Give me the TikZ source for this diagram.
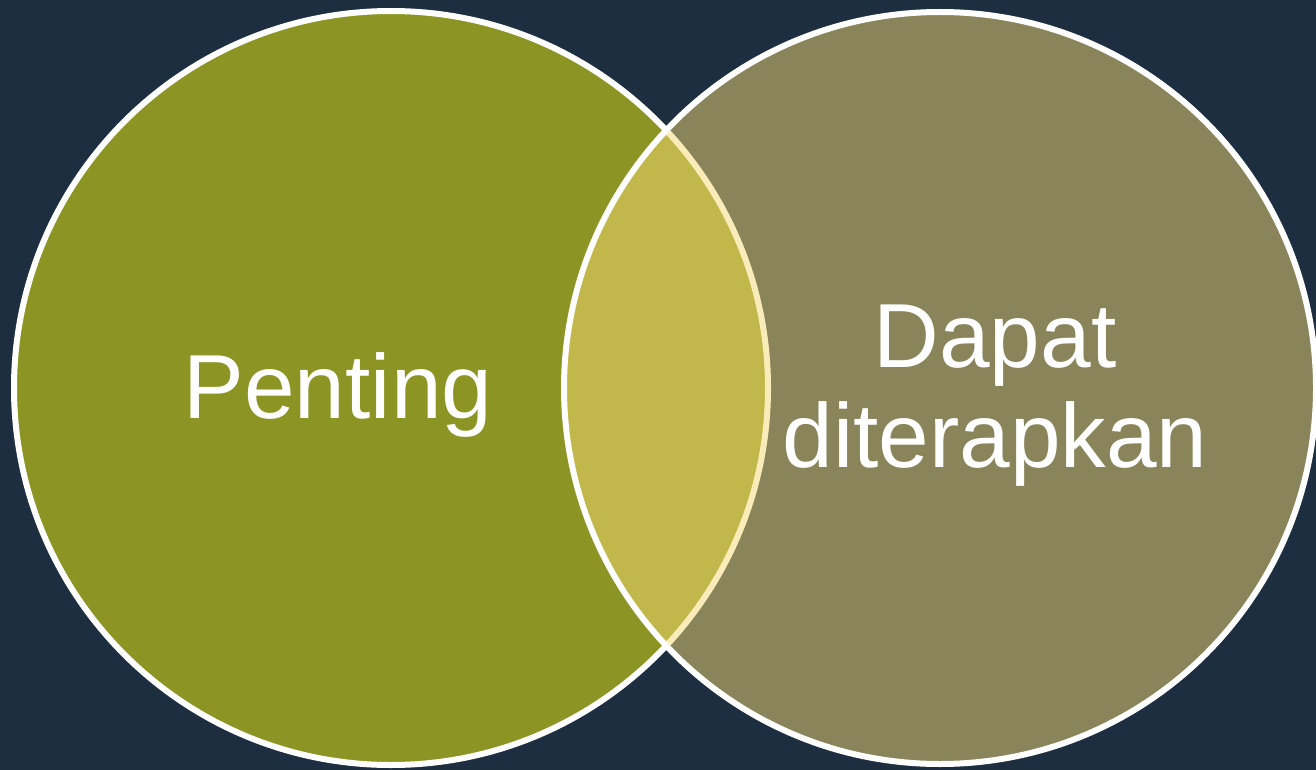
\documentclass[tikz,border=0pt]{standalone}
\usepackage{fontspec}
\setmainfont{Liberation Sans}
\definecolor{bgnavy}{HTML}{1C2E40}
\definecolor{olive}{HTML}{8C9523}
\definecolor{sand}{HTML}{F6DA74}
\tikzset{
  ring/.style={draw=white, line width=6pt},
  label/.style={text=white, font=\fontsize{91}{100}\selectfont, align=center, inner sep=0pt}
}
\begin{document}
\begin{tikzpicture}[x=1pt,y=-1pt]
  \fill[bgnavy] (0,0) rectangle (1316,770);
  \useasboundingbox (0,0) rectangle (1316,770);
  % left set
  \fill[olive] (391,388) circle[radius=377];
  \draw[ring] (391,388) circle[radius=377];
  % right set, half transparent over the left one
  \fill[sand, fill opacity=0.5] (940,388) circle[radius=376];
  \draw[ring] (940,388) circle[radius=376];
  \node[label] (important) at (338,395) {Penting};
  \node[label] (applicable) at (995,396) {Dapat\\diterapkan};
\end{tikzpicture}
\end{document}
